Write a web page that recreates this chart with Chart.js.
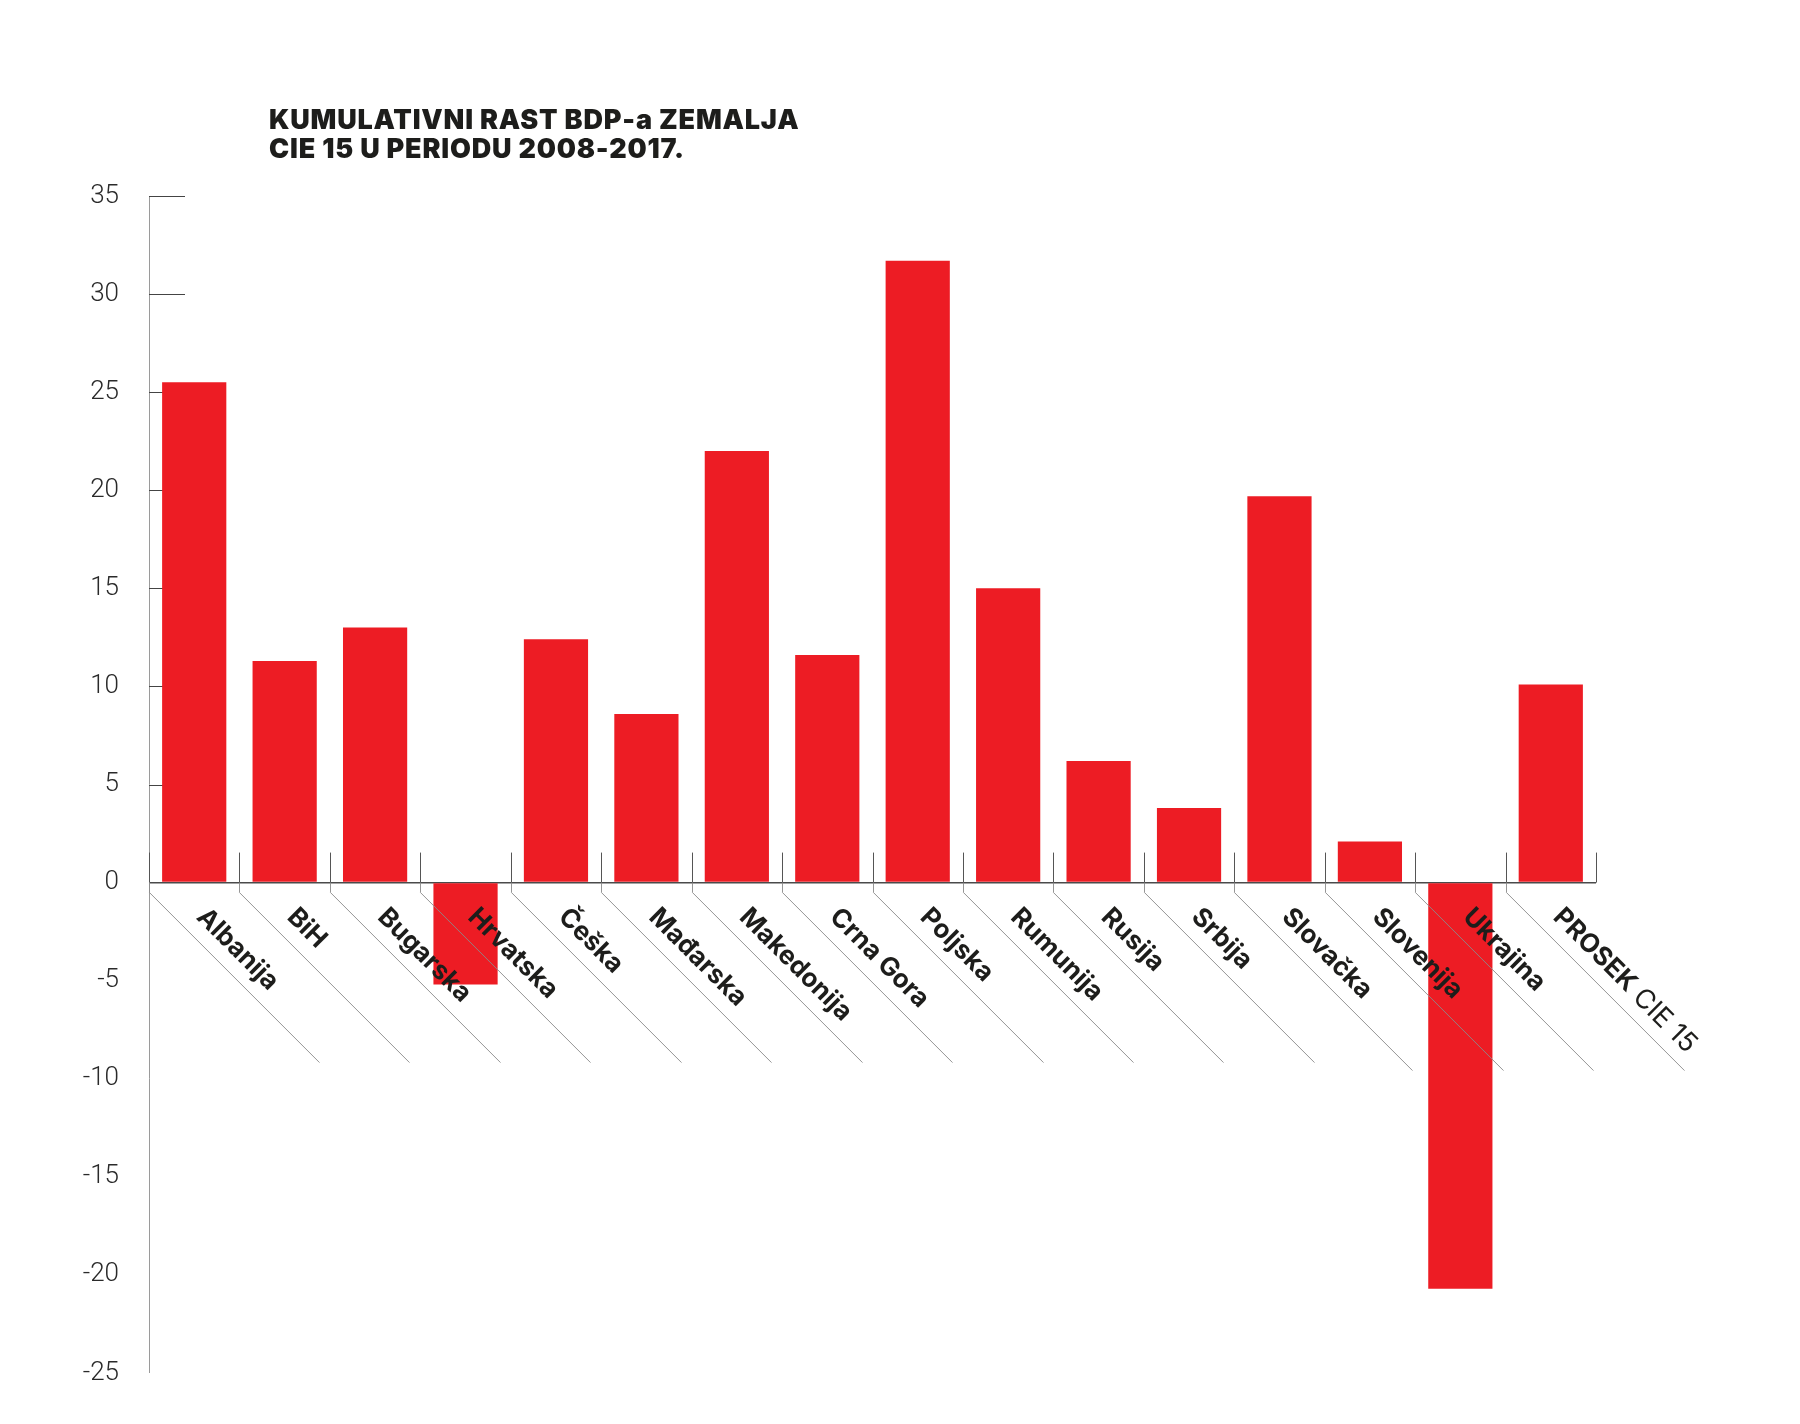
<!DOCTYPE html>
<html>
<head>
<meta charset="utf-8">
<script src="https://cdn.jsdelivr.net/npm/chart.js@4.4.1/dist/chart.umd.min.js"></script>
<style>
  html, body { margin: 0; padding: 0; background: #ffffff; }
  #wrap { position: relative; width: 1800px; height: 1424px; }
  #title {
    position: absolute; left: 269px; top: 105px;
    font-family: "Inter", "Roboto", sans-serif; font-weight: 900;
    font-size: 27px; line-height: 29px; color: #1d1d1b; letter-spacing: 0.8px;
    margin: 0;
  }
  canvas { position: absolute; left: 0; top: 0; }
</style>
</head>
<body>
<div id="wrap">
  <canvas id="c" width="1800" height="1424"></canvas>
  <h1 id="title">KUMULATIVNI RAST BDP-a ZEMALJA<br>CIE 15 U PERIODU 2008-2017.</h1>
</div>
<script>
// ---- data ----
const categories = ['Albanija', 'BiH', 'Bugarska', 'Hrvatska', 'Češka', 'Mađarska', 'Makedonija', 'Crna Gora',
  'Poljska', 'Rumunija', 'Rusija', 'Srbija', 'Slovačka', 'Slovenija', 'Ukrajina', 'PROSEK CIE 15'];
const growth = [25.5, 11.3, 13.0, -5.2, 12.4, 8.6, 22.0, 11.6, 31.7, 15.0, 6.2, 3.8, 19.7, 2.1, -20.7, 10.1];
const yMin = -25;
const yMax = 35;
const yStep = 5;

const RED = '#ED1C24';
const INK = '#1d1d1b';

const decorations = {
  id: 'decorations',
  beforeDatasetsDraw(chart) {
    const { ctx, scales: { y } } = chart;
    const x0 = chart.chartArea.left;
    ctx.save();
    ctx.strokeStyle = '#444';
    ctx.lineWidth = 1;
    y.ticks.forEach(t => {
      if (t.value > 0) {
        const py = Math.round(y.getPixelForValue(t.value)) + 0.5;
        ctx.beginPath();
        ctx.moveTo(x0, py);
        ctx.lineTo(x0 + 36, py);
        ctx.stroke();
      }
    });
    ctx.restore();
  },
  afterDatasetsDraw(chart) {
    const { ctx, scales: { x, y } } = chart;
    const n = chart.data.labels.length;
    const zero = y.getPixelForValue(0);
    const half = (chart.chartArea.right - chart.chartArea.left) / n / 2;
    ctx.save();
    // separators above zero
    ctx.strokeStyle = '#555';
    ctx.lineWidth = 1;
    for (let i = 0; i <= n; i++) {
      const bx = Math.round((i < n ? x.getPixelForValue(i) - half : x.getPixelForValue(n - 1) + half)) + 0.5;
      ctx.beginPath();
      ctx.moveTo(bx, zero - 30);
      ctx.lineTo(bx, zero);
      ctx.stroke();
    }
    // diagonal leaders below zero
    ctx.strokeStyle = '#8a8a8a';
    ctx.lineWidth = 0.9;
    for (let i = 0; i < n; i++) {
      const bx = Math.round(x.getPixelForValue(i) - half) + 0.5;
      const len = i >= n - 4 ? 178 : 170;
      ctx.beginPath();
      ctx.moveTo(bx, zero);
      ctx.lineTo(bx, zero + 10);
      ctx.lineTo(bx + len, zero + 10 + len);
      ctx.stroke();
    }
    // rotated category labels
    ctx.fillStyle = INK;
    ctx.textBaseline = 'top';
    ctx.textAlign = 'left';
    const fam = '"Inter", "Roboto", sans-serif';
    chart.data.labels.forEach((lab, i) => {
      const cx = x.getPixelForValue(i);
      ctx.save();
      ctx.translate(cx + 16, zero + 21);
      ctx.rotate(Math.PI / 4);
      if (i === n - 1) {
        const sp = lab.indexOf(' ');
        const first = lab.slice(0, sp);
        const rest = lab.slice(sp);
        ctx.font = '700 26px ' + fam;
        ctx.fillText(first, 0, 0);
        const w = ctx.measureText(first).width;
        ctx.font = '400 27px ' + fam;
        ctx.fillText(rest, w, 0);
      } else {
        ctx.font = '700 26px ' + fam;
        ctx.fillText(lab, 0, 0);
      }
      ctx.restore();
    });
    ctx.restore();
  }
};

new Chart(document.getElementById('c'), {
  type: 'bar',
  data: {
    labels: categories,
    datasets: [{
      data: growth,
      backgroundColor: RED,
      borderWidth: 0,
      categoryPercentage: 1.0,
      barPercentage: 0.71
    }]
  },
  options: {
    responsive: false,
    devicePixelRatio: 1,
    animation: false,
    layout: { padding: { top: 196, bottom: 51, left: 0, right: 204 } },
    plugins: { legend: { display: false }, title: { display: false }, tooltip: { enabled: false } },
    scales: {
      x: { display: false },
      y: {
        min: yMin, max: yMax,
        afterFit(s) { s.width = 149; },
        ticks: {
          stepSize: yStep,
          padding: 30,
          color: '#2a2a2a',
          font: { family: 'Roboto', weight: '300', size: 26 }
        },
        grid: {
          drawTicks: false,
          drawOnChartArea: true,
          color: c => (c.tick && c.tick.value === 0 ? '#4a4a4a' : 'rgba(0,0,0,0)'),
          lineWidth: c => (c.tick && c.tick.value === 0 ? 1.5 : 0)
        },
        border: { display: true, color: '#9a9a9a', width: 1 }
      }
    }
  },
  plugins: [decorations]
});
</script>
</body>
</html>
